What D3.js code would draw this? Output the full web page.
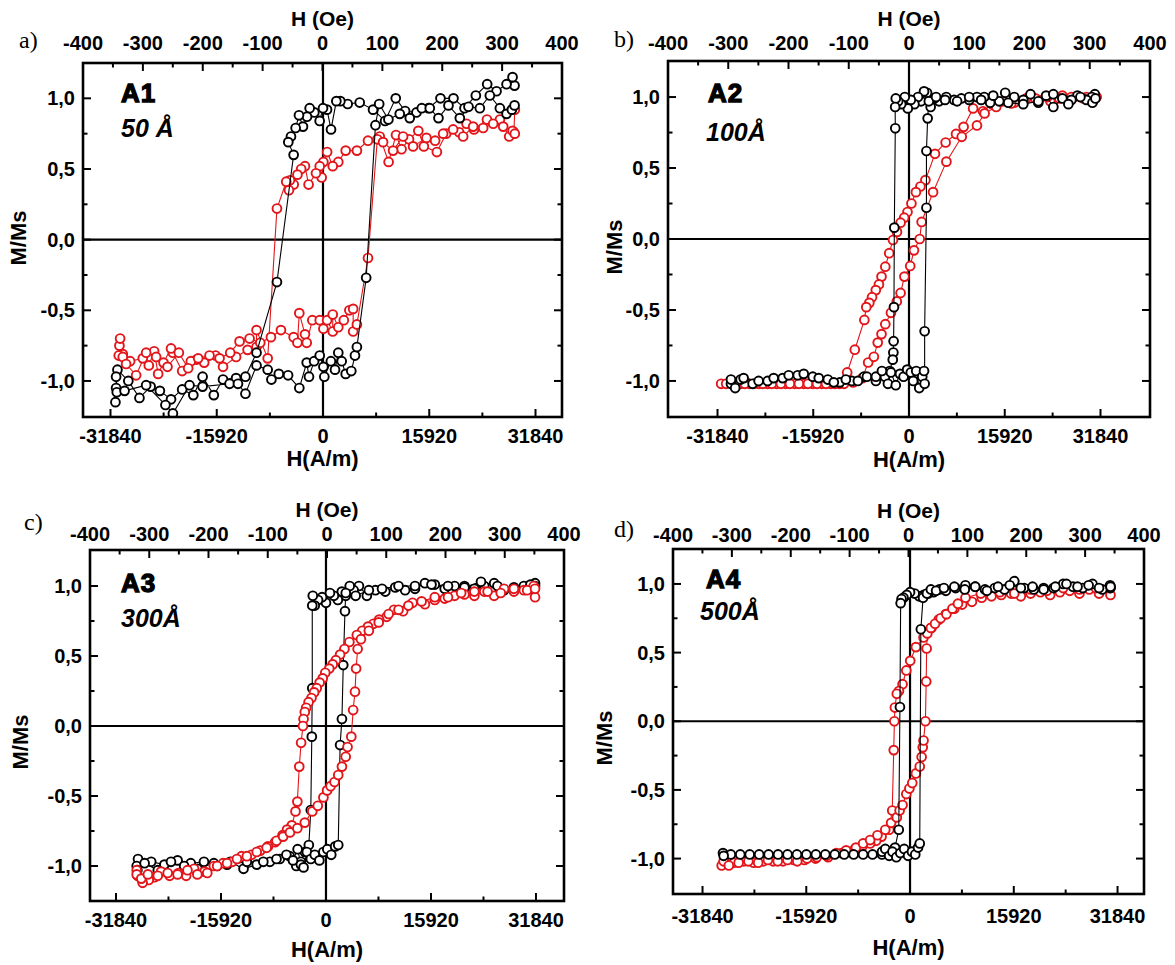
<!DOCTYPE html>
<html><head><meta charset="utf-8">
<script src="https://cdn.jsdelivr.net/npm/d3@7"></script>
<style>
html,body{margin:0;padding:0;background:#fff;}
svg{display:block;}
text{font-family:"Liberation Sans",Arial,sans-serif;font-weight:bold;fill:#000;}
</style></head>
<body>
<svg id="chart" width="1175" height="965"></svg>
<script>
// ---------------- DATA ----------------
const oeTicks = [-400,-300,-200,-100,0,100,200,300,400];
const oeMinor = [-350,-250,-150,-50,50,150,250,350];
const amTicks = [-31840,-15920,0,15920,31840];
const amMinor = [-23880,-7960,7960,23880];
const mTicks = [-1,-0.5,0,0.5,1];
const mMinor = [-0.75,-0.25,0.25,0.75];
const mTickLabels = ["-1,0","-0,5","0,0","0,5","1,0"];
const panelLetters = ["a)","b)","c)","d)"];
const sampleNames = ["A1","A2","A3","A4"];
const thicknesses = ["50 Å","100Å","300Å","500Å"];
const xTitle = "H(A/m)", topTitle = "H (Oe)", yTitle = "M/Ms";

// [H (A/m), M/Ms] in measurement order (descending then ascending branch)
const a1Black = [[28700,1.09],[28400,1.15],[27500,1.10],[26000,1.05],[24600,1.1],[22900,1.02],[21200,0.93],[19550,1.0],[17600,1.0],[15800,0.93],[14000,0.9],[12300,0.91],[10900,1.0],[9300,0.84],[7500,0.92],[5500,0.97],[3700,0.96],[2600,0.98],[2000,0.98],[1200,0.78],[600,0.92],[0,0.93],[-500,0.84],[-1300,0.9],[-2000,0.93],[-2400,0.87],[-3000,0.8],[-3600,0.88],[-4100,0.79],[-4800,0.73],[-5200,0.69],[-4400,0.6],[-6900,-0.3],[-9960,-0.8],
[-11620,-0.97],[-13020,-0.98],[-14980,-0.99],[-16360,-1.1],[-18040,-0.97],[-19430,-1.1],[-21100,-1.06],[-22770,-1.13],[-24440,-1.07],[-25830,-1.04],[-27500,-1.12],[-29170,-1.0],[-30800,-0.92],[-31100,-1.15],
[-31000,-1.05],[-31000,-0.97],[-30900,-1.08],[-29730,-1.07],[-26500,-1.03],[-23610,-1.17],[-22490,-1.23],[-20000,-1.03],[-18040,-1.04],[-14000,-1.02],[-12740,-1.02],[-11620,-1.09],[-9960,-0.89],[-8290,-0.92],[-7730,-0.99],[-6620,-0.95],[-5230,-0.96],[-3550,-1.05],[-2440,-0.87],[-2100,-0.97],[-1330,-0.86],[-490,-0.82],[60,-0.9],[200,-0.97],[1180,-0.86],[1800,-0.92],[2290,-0.8],[2800,-0.86],[3400,-0.95],[4240,-0.93],[4790,-0.82],[5080,-0.76],[6470,-0.27],[7860,0.81],[8420,0.96],[9800,0.85],[11500,0.89],[13000,0.86],[14800,0.93],[16000,0.93],[17300,0.86],[18800,0.95],[20500,0.86],[21800,0.94],[23500,0.93],[25000,1.02],[26500,0.93],[27500,0.89],[28300,0.92],[28700,0.95]];
const a1Red = [[28740,0.92],[28600,0.76],[27900,0.73],[26510,0.85],[24570,0.85],[22620,0.78],[21510,0.82],[20400,0.76],[18450,0.75],[17060,0.62],[15110,0.66],[14280,0.77],[12890,0.71],[11770,0.64],[10940,0.74],[9830,0.55],[8500,0.73],[6740,0.7],[5080,0.63],[3400,0.63],[2290,0.55],[1460,0.52],[620,0.62],[60,0.55],[-200,0.44],[-490,0.52],[-1050,0.47],[-2160,0.39],[-2700,0.52],[-3270,0.5],[-3830,0.46],[-4390,0.39],[-4950,0.42],[-5100,0.35],[-5510,0.41],[-6900,0.22],[-8290,-0.84],[-9960,-0.64],[-9960,-0.76],[-11300,-0.78],[-13020,-0.83],[-14980,-0.9],[-16100,-0.82],[-17800,-0.87],[-19000,-0.85],[-19800,-0.86],[-21100,-0.93],[-22500,-0.8],[-22770,-0.77],[-23900,-0.87],[-24700,-0.95],[-25300,-0.79],[-26100,-0.89],[-27000,-0.84],[-28900,-0.86],[-30000,-0.81],[-30500,-0.75],[-30600,-0.82],[-30400,-0.7],
[-30000,-0.83],[-29500,-0.88],[-28000,-0.96],[-26500,-0.8],[-25000,-0.83],[-23300,-0.9],[-21600,-0.8],[-20200,-0.91],[-18700,-0.84],[-17000,-0.82],[-15500,-0.84],[-13900,-0.8],[-12500,-0.72],[-11000,-0.7],[-9400,-0.73],[-7800,-0.69],[-6300,-0.64],[-4400,-0.69],[-3830,-0.73],[-3550,-0.52],[-2700,-0.67],[-2440,-0.73],[-1600,-0.57],[-490,-0.57],[60,-0.63],[620,-0.57],[1460,-0.65],[1460,-0.53],[2290,-0.62],[3120,-0.57],[3950,-0.5],[4520,-0.49],[4520,-0.65],[5080,-0.6],[6740,-0.13],[8140,0.71],[9000,0.69],[10500,0.63],[12000,0.73],[13500,0.66],[15500,0.72],[16800,0.7],[18000,0.75],[19500,0.78],[21000,0.73],[22500,0.8],[24000,0.79],[25500,0.82],[27000,0.8],[28400,0.77],[28740,0.75]];

const a2Black = [[30900,1.02],[30600,0.97],[30400,1.0],[29500,0.98],[28000,1.01],[27000,0.98],[25500,0.99],[24000,0.93],[22800,1.01],[21500,0.96],[20200,1.02],[19000,0.98],[17500,1.0],[16000,1.03],[15000,0.97],[13500,0.96],[12500,1.0],[11300,1.0],[10000,0.98],[8700,0.99],[7500,0.98],[6200,1.0],[5000,0.97],[4200,0.99],[3600,0.93],[3000,1.03],[2500,1.04],[2000,0.97],[1500,1.0],[900,0.95],[300,0.98],[-200,0.92],[-700,1.0],[-1300,0.95],[-1800,0.97],[-2200,0.99],[-2300,0.93],[-2280,0.78],[-2440,0.08],[-2500,-0.48],[-2560,-0.72],[-2600,-0.8],[-2700,-0.85],
[-3200,-0.93],[-4000,-0.97],[-5500,-1.0],[-7500,-0.97],[-9500,-1.0],[-11500,-1.01],[-13500,-0.99],[-16000,-0.97],[-18500,-0.96],[-21000,-0.98],[-23500,-1.0],[-26000,-1.02],[-28000,-0.99],[-29600,-1.02],
[-29600,-0.99],[-28900,-1.05],[-27500,-0.98],[-25000,-1.0],[-22500,-0.98],[-20000,-0.96],[-17500,-0.95],[-15000,-0.98],[-12500,-1.01],[-10500,-0.99],[-8500,-1.0],[-7000,-0.97],[-5500,-0.97],[-4500,-0.93],[-3500,-1.02],[-3000,-0.94],[-2200,-1.03],[-1500,-0.95],[-900,-0.97],[-300,-0.92],[300,-0.94],[700,-1.0],[1200,-0.93],[1700,-1.05],[2200,-0.97],[2500,-0.93],[2600,-1.02],[2600,-0.65],[2900,0.22],[2900,0.62],[3100,0.85],[3300,0.97],[4500,1.0],[6000,0.98],[8000,0.97],[10000,1.0],[12000,0.98],[14000,1.01],[16500,0.96],[19000,0.95],[21500,0.97],[24000,1.02],[26500,0.95],[28500,1.0],[30500,0.96],[31000,0.99]];
const a2Red = [[31200,1.0],[29500,1.0],[27500,1.0],[25500,1.01],[23500,0.97],[21500,0.98],[19500,0.99],[17500,0.96],[15500,0.97],[13800,0.95],[12300,0.9],[10660,0.92],[9080,0.79],[7820,0.74],[6090,0.68],[4320,0.6],[2730,0.415],[1900,0.37],[1150,0.33],[400,0.25],[-250,0.19],[-800,0.15],[-1400,0.115],[-2000,0.05],[-2660,-0.007],[-3290,-0.1],[-3940,-0.195],[-4570,-0.265],[-5000,-0.32],[-5520,-0.36],[-6150,-0.41],[-6600,-0.45],[-7100,-0.48],[-7420,-0.57],[-9010,-0.78],[-10280,-0.94],[-11560,-1.02],[-13000,-1.02],[-14500,-1.02],[-16000,-1.02],[-17500,-1.02],[-19000,-1.02],[-20500,-1.02],[-22000,-1.02],[-23500,-1.02],[-25000,-1.02],[-26500,-1.02],[-28000,-1.02],[-29500,-1.02],[-31230,-1.02],
[-30400,-1.02],[-28800,-1.02],[-27300,-1.02],[-25800,-1.02],[-24300,-1.02],[-22800,-1.02],[-21300,-1.02],[-19800,-1.02],[-18300,-1.02],[-16800,-1.02],[-15300,-1.02],[-13800,-1.02],[-12300,-1.02],[-10800,-1.02],[-9300,-1.01],[-7750,-0.98],[-6790,-0.87],[-5840,-0.83],[-5200,-0.73],[-4570,-0.67],[-3940,-0.6],[-3000,-0.52],[-2030,-0.44],[-1400,-0.38],[-760,-0.265],[200,-0.19],[830,-0.08],[1780,0.0],[2100,0.12],[4000,0.33],[6220,0.545],[8770,0.72],[11300,0.8],[12570,0.885],[14500,0.93],[17010,0.955],[19000,0.97],[21000,0.99],[23000,1.0],[25000,0.99],[27000,1.0],[29000,0.99],[31000,1.0]];

const a3Black = [[31700,1.02],[31500,0.97],[30000,1.0],[28500,0.99],[27000,0.97],[25500,1.02],[24000,1.0],[22500,0.98],[21000,1.0],[19500,1.0],[18000,0.98],[16500,1.01],[15000,1.02],[13500,0.98],[12000,0.97],[10500,0.99],[9000,0.96],[7500,0.97],[6200,0.93],[5000,1.0],[4200,0.97],[3600,1.0],[3000,0.93],[2400,0.96],[1800,0.9],[1200,0.93],[600,0.95],[0,0.88],[-600,0.92],[-1200,0.9],[-1700,0.86],[-2000,0.93],[-2080,0.86],[-2080,0.27],[-2150,-0.076],[-2300,-0.6],[-2600,-0.85],
[-3200,-0.9],[-3800,-0.97],[-4500,-1.0],[-5500,-0.93],[-7000,-0.95],[-8500,-0.97],[-10500,-0.99],[-12500,-1.02],[-14500,-0.97],[-16500,-1.0],[-18500,-0.97],[-20500,-0.98],[-22500,-0.96],[-24500,-0.99],[-26500,-0.97],[-28500,-0.95],[-28700,-1.0],
[-28600,-1.03],[-27500,-0.98],[-25500,-1.03],[-23500,-0.97],[-21500,-1.0],[-19500,-1.02],[-17000,-0.98],[-15000,-0.99],[-12000,-0.97],[-9500,-0.97],[-7500,-0.95],[-6000,-0.92],[-5000,-0.96],[-4300,-0.88],[-3800,-0.99],[-3400,-1.01],[-2900,-0.9],[-2300,-0.95],[-1700,-0.92],[-1000,-0.96],[-400,-0.9],[200,-0.88],[800,-0.92],[1400,-0.86],[1860,-0.85],[2140,-0.136],[2420,0.05],[2620,0.435],[2880,0.82],[3000,0.95],[4500,0.93],[6500,0.97],[8500,0.98],[11000,1.0],[13500,1.0],[16000,1.01],[18500,1.0],[21000,0.99],[23500,1.03],[26000,1.0],[28500,0.98],[31000,1.01],[31700,1.0]];
const a3Red = [[31700,0.92],[31500,1.0],[30000,0.97],[28500,0.96],[27000,0.98],[25500,0.93],[24000,0.96],[22500,0.93],[21000,0.94],[19500,0.93],[18000,0.91],[16500,0.9],[15000,0.87],[13130,0.88],[11700,0.82],[10310,0.83],[9200,0.78],[8060,0.76],[7200,0.73],[6370,0.71],[5500,0.68],[4680,0.65],[3550,0.6],[2800,0.55],[2140,0.51],[1500,0.47],[1020,0.44],[500,0.41],[-110,0.38],[-500,0.34],[-960,0.31],[-1400,0.27],[-1800,0.24],[-2200,0.2],[-2640,0.17],[-3000,0.13],[-3210,0.1],[-3400,0.05],[-3490,0.0],[-3770,-0.12],[-4050,-0.29],[-4340,-0.54],[-4620,-0.61],[-5180,-0.71],[-5900,-0.74],[-6590,-0.78],[-7720,-0.83],[-8800,-0.86],[-9970,-0.89],[-11300,-0.92],[-12790,-0.93],[-14200,-0.97],[-15610,-0.98],[-17000,-1.0],[-18420,-1.04],[-20000,-1.02],[-21200,-1.07],[-22370,-1.05],[-23700,-1.07],[-25000,-1.04],[-26000,-1.08],[-26870,-1.1],[-27800,-1.12],[-28570,-1.07],[-28700,-1.03],
[-28700,-1.06],[-28000,-1.09],[-27000,-1.06],[-25500,-1.07],[-24000,-1.05],[-22500,-1.06],[-21000,-1.03],[-19500,-1.06],[-18000,-1.05],[-16500,-1.0],[-15000,-0.98],[-13500,-0.95],[-12000,-0.93],[-10500,-0.9],[-9000,-0.87],[-7500,-0.82],[-6500,-0.79],[-5460,-0.76],[-4340,-0.73],[-3210,-0.69],[-2080,-0.61],[-1240,-0.57],[-390,-0.51],[170,-0.46],[700,-0.43],[1300,-0.4],[1860,-0.35],[2420,-0.29],[2990,-0.22],[3270,-0.15],[3840,-0.076],[4120,0.114],[4400,0.245],[4570,0.41],[4800,0.55],[5300,0.62],[6500,0.68],[8000,0.74],[9500,0.8],[11000,0.83],[12500,0.86],[14500,0.89],[16500,0.92],[18500,0.92],[20500,0.95],[22500,0.96],[24500,0.96],[26500,0.95],[28500,0.98],[30500,0.97],[31700,0.98]];

const a4Black = [[30760,0.97],[30700,0.99],[29500,0.96],[28000,1.0],[26500,0.97],[25000,0.98],[23500,1.0],[22000,0.97],[20500,0.97],[19000,0.96],[17500,0.97],[16000,1.02],[14500,0.96],[13000,0.97],[11500,0.96],[10000,0.98],[8500,0.99],[7000,0.97],[5500,0.95],[4500,0.96],[3600,0.94],[2800,0.93],[2100,0.92],[1400,0.91],[700,0.93],[0,0.94],[-500,0.92],[-1000,0.9],[-1300,0.89],[-1440,0.86],[-1550,0.104],[-1730,-0.79],[-2300,-0.92],
[-4300,-0.97],[-7200,-0.97],[-10100,-0.97],[-13000,-0.97],[-15900,-0.97],[-18800,-0.97],[-21700,-0.97],[-24600,-0.97],[-27500,-0.97],[-28700,-0.96],
[-28600,-0.98],[-26050,-0.97],[-23150,-0.97],[-20250,-0.97],[-17350,-0.97],[-14450,-0.97],[-11550,-0.97],[-8650,-0.97],[-5750,-0.97],[-4300,-0.95],[-3800,-0.93],[-3200,-0.98],[-2700,-0.95],[-2100,-0.99],[-1500,-0.96],[-900,-0.93],[-300,-0.98],[300,-0.95],[800,-0.97],[1230,-0.92],[1490,-0.89],[1660,0.67],[2000,0.9],[2600,0.93],[3200,0.96],[4000,0.95],[5200,0.97],[6800,0.98],[8400,0.96],[10000,0.98],[11800,0.95],[13500,0.98],[15300,0.99],[17000,0.97],[18800,0.98],[20500,0.96],[22300,0.98],[24000,1.0],[25700,0.98],[27400,0.99],[29000,0.97],[30760,0.98]];
const a4Red = [[30760,0.92],[30600,0.97],[29000,0.93],[27500,0.96],[26000,0.93],[24500,0.95],[23000,0.94],[21500,0.92],[20000,0.94],[18500,0.93],[17000,0.91],[15500,0.93],[14000,0.92],[12500,0.91],[11000,0.9],[9500,0.87],[8000,0.85],[6800,0.82],[5500,0.78],[4400,0.74],[3300,0.68],[2070,0.61],[900,0.54],[30,0.44],[-570,0.37],[-1150,0.27],[-1700,0.22],[-2030,0.2],[-2320,0.1],[-2400,0.0],[-2500,-0.21],[-2730,-0.65],[-3190,-0.79],[-4370,-0.84],[-5200,-0.87],[-6120,-0.89],[-7300,-0.91],[-8470,-0.93],[-10500,-0.96],[-12570,-0.99],[-14500,-1.0],[-16200,-1.01],[-17840,-1.01],[-19500,-1.02],[-21000,-1.02],[-22520,-1.02],[-24000,-1.03],[-25500,-1.02],[-27000,-1.03],[-28380,-1.03],[-28900,-1.05],
[-28600,-1.02],[-27800,-1.05],[-26300,-1.03],[-24800,-1.02],[-23300,-1.03],[-21800,-1.01],[-20300,-1.02],[-18800,-1.01],[-17300,-1.02],[-15800,-1.0],[-14300,-0.99],[-12800,-0.98],[-11300,-0.96],[-9800,-0.94],[-8300,-0.92],[-7200,-0.89],[-6120,-0.865],[-5000,-0.83],[-3800,-0.79],[-2900,-0.74],[-2030,-0.7],[-1600,-0.65],[-1150,-0.61],[-570,-0.53],[-100,-0.49],[340,-0.45],[900,-0.38],[1490,-0.33],[1780,-0.26],[1950,-0.19],[2070,-0.14],[2360,0.0],[2480,0.29],[2550,0.53],[2650,0.64],[3200,0.68],[3840,0.71],[4700,0.75],[5580,0.78],[6500,0.82],[7350,0.856],[8510,0.9],[10860,0.93],[13780,0.94],[16000,0.93],[18500,0.96],[21000,0.95],[23500,0.97],[26000,0.96],[28500,0.97],[30760,0.98]];

const blackLoops = [a1Black,a2Black,a3Black,a4Black];
const redLoops = [a1Red,a2Red,a3Red,a4Red];

// ---------------- LAYOUT ----------------
const layout = [
 {l:83,r:562,t:63,b:417, xd:[-35960,35810], yd:[-1.255,1.25], topLab:50, topTitle:26, botLab:443, botTitle:466, yTitleX:26, yTitleY:238,
  letter:[19,48], name:[121,102], thick:[121,137], redFirst:true},
 {l:668,r:1150,t:61,b:417, xd:[-40070,40070], yd:[-1.254,1.254], topLab:50, topTitle:26, botLab:443, botTitle:467, yTitleX:622, yTitleY:247,
  letter:[614,47], name:[708,102], thick:[706,141], redFirst:true},
 {l:90,r:564,t:550,b:901, xd:[-35780,36090], yd:[-1.25,1.257], topLab:541, topTitle:517, botLab:927, botTitle:957, yTitleX:28, yTitleY:742,
  letter:[24,530], name:[121,592], thick:[121,627], redFirst:false},
 {l:673,r:1144,t:549,b:894, xd:[-36370,35900], yd:[-1.258,1.2545], topLab:542, topTitle:518, botLab:923, botTitle:955, yTitleX:612, yTitleY:738,
  letter:[614,537], name:[706,588], thick:[700,620], redFirst:true}
];

const RED = "#e2161a";
const svg = d3.select("#chart");

layout.forEach((L, i) => {
  const g = svg.append("g");
  const x = d3.scaleLinear().domain(L.xd).range([L.l, L.r]);
  const xt = d3.scaleLinear().domain([-400,400]).range([L.l, L.r]);
  const y = d3.scaleLinear().domain(L.yd).range([L.b, L.t]);

  const clipId = "clip"+i;
  g.append("clipPath").attr("id", clipId).append("rect")
    .attr("x", L.l).attr("y", L.t).attr("width", L.r-L.l).attr("height", L.b-L.t);

  // zero lines
  g.append("line").attr("x1", L.l).attr("x2", L.r).attr("y1", y(0)).attr("y2", y(0))
    .attr("stroke","#000").attr("stroke-width",2.2);
  g.append("line").attr("x1", x(0)).attr("x2", x(0)).attr("y1", L.t).attr("y2", L.b)
    .attr("stroke","#000").attr("stroke-width",2.2);

  // ticks (inward)
  const tk = g.append("g").attr("stroke","#000").attr("stroke-width",2);
  const MAJ = 8, MIN = 4.5;
  amTicks.forEach(v => tk.append("line").attr("x1",x(v)).attr("x2",x(v)).attr("y1",L.b).attr("y2",L.b-MAJ));
  amMinor.forEach(v => tk.append("line").attr("x1",x(v)).attr("x2",x(v)).attr("y1",L.b).attr("y2",L.b-MIN));
  oeTicks.forEach(v => tk.append("line").attr("x1",xt(v)).attr("x2",xt(v)).attr("y1",L.t).attr("y2",L.t+MAJ));
  oeMinor.forEach(v => tk.append("line").attr("x1",xt(v)).attr("x2",xt(v)).attr("y1",L.t).attr("y2",L.t+MIN));
  mTicks.forEach(v => {
    tk.append("line").attr("x1",L.l).attr("x2",L.l+MAJ).attr("y1",y(v)).attr("y2",y(v));
    tk.append("line").attr("x1",L.r).attr("x2",L.r-MAJ).attr("y1",y(v)).attr("y2",y(v));
  });
  mMinor.forEach(v => {
    tk.append("line").attr("x1",L.l).attr("x2",L.l+MIN).attr("y1",y(v)).attr("y2",y(v));
    tk.append("line").attr("x1",L.r).attr("x2",L.r-MIN).attr("y1",y(v)).attr("y2",y(v));
  });

  // data
  const plot = g.append("g").attr("clip-path","url(#"+clipId+")");
  const line = d3.line().x(d => x(d[0])).y(d => y(d[1]));
  const series = L.redFirst
    ? [{d:redLoops[i], c:RED},{d:blackLoops[i], c:"#000"}]
    : [{d:blackLoops[i], c:"#000"},{d:redLoops[i], c:RED}];
  series.forEach(s => {
    plot.append("path").datum(s.d).attr("d", line).attr("fill","none")
      .attr("stroke", s.c).attr("stroke-width",1.1);
    plot.append("g").selectAll("circle").data(s.d).join("circle")
      .attr("cx", d => x(d[0])).attr("cy", d => y(d[1])).attr("r",4.4)
      .attr("fill","#fff").attr("stroke", s.c).attr("stroke-width",1.9);
  });

  // frame
  g.append("rect").attr("x",L.l).attr("y",L.t).attr("width",L.r-L.l).attr("height",L.b-L.t)
    .attr("fill","none").attr("stroke","#000").attr("stroke-width",2.6);

  // tick labels
  amTicks.forEach(v => g.append("text").attr("x",x(v)).attr("y",L.botLab)
    .attr("text-anchor","middle").attr("font-size",20).text(String(v)));
  oeTicks.forEach(v => g.append("text").attr("x",xt(v)).attr("y",L.topLab)
    .attr("text-anchor","middle").attr("font-size",20).text(String(v)));
  mTicks.forEach((v,k) => g.append("text").attr("x",L.l-8).attr("y",y(v)+7)
    .attr("text-anchor","end").attr("font-size",20).text(mTickLabels[k]));

  // titles
  g.append("text").attr("x",(L.l+L.r)/2).attr("y",L.botTitle).attr("text-anchor","middle")
    .attr("font-size",22).text(xTitle);
  g.append("text").attr("x",(L.l+L.r)/2).attr("y",L.topTitle).attr("text-anchor","middle")
    .attr("font-size",21).text(topTitle);
  g.append("text").attr("transform","translate("+L.yTitleX+","+L.yTitleY+") rotate(-90)")
    .attr("text-anchor","middle").attr("font-size",22).text(yTitle);

  // panel letter
  g.append("text").attr("x",L.letter[0]).attr("y",L.letter[1])
    .style("font-family","'Liberation Serif','Times New Roman',serif").style("font-weight","normal")
    .attr("font-size",24).text(panelLetters[i]);
  // sample labels
  g.append("text").attr("x",L.name[0]).attr("y",L.name[1]).attr("font-size",26)
    .attr("stroke","#000").attr("stroke-width",1.3).attr("letter-spacing",1).text(sampleNames[i]);
  g.append("text").attr("x",L.thick[0]).attr("y",L.thick[1]).attr("font-size",25)
    .style("font-style","italic").text(thicknesses[i]);
});
</script>
</body></html>
